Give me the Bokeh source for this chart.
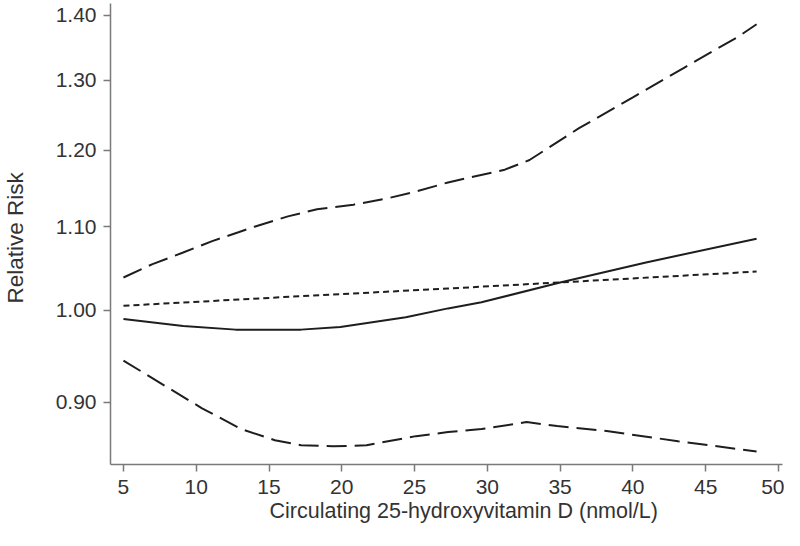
from bokeh.plotting import figure
from bokeh.models import Range1d, FixedTicker, CustomJSTickFormatter, Title
from bokeh.embed import file_html
from bokeh.resources import INLINE

# Upper confidence limit
upper_x = [5.0, 7.0, 9.1, 11.1, 12.9, 14.0, 16.3, 18.3, 20.8, 23.1, 25.1, 27.3, 31.2, 32.9, 36.3, 40.0, 43.6, 47.2, 48.5]
upper_y = [1.038, 1.054, 1.068, 1.082, 1.093, 1.100, 1.113, 1.122, 1.128, 1.136, 1.145, 1.157, 1.174, 1.187, 1.231, 1.275, 1.320, 1.366, 1.386]

# Point estimate (relative risk)
rr_x = [5.0, 9.1, 12.7, 17.2, 19.9, 24.4, 27.3, 29.6, 35.0, 40.9, 48.5]
rr_y = [0.990, 0.982, 0.978, 0.978, 0.981, 0.992, 1.002, 1.009, 1.032, 1.056, 1.085]

# Reference (dotted) line
ref_x = [5.0, 16.0, 27.3, 38.0, 48.5]
ref_y = [1.005, 1.015, 1.025, 1.035, 1.045]

# Lower confidence limit
lower_x = [5.0, 8.2, 10.4, 13.1, 15.4, 17.2, 19.4, 21.7, 25.1, 27.3, 29.6, 32.7, 34.8, 38.2, 43.1, 48.5]
lower_y = [0.944, 0.914, 0.894, 0.873, 0.862, 0.857, 0.856, 0.857, 0.866, 0.870, 0.873, 0.880, 0.876, 0.871, 0.861, 0.851]

x_ticks = [5, 10, 15, 20, 25, 30, 35, 40, 45, 50]
y_ticks = [0.90, 1.00, 1.10, 1.20, 1.30, 1.40]

x_title = "Circulating 25-hydroxyvitamin D (nmol/L)"
y_title = "Relative Risk"

p = figure(width=784, height=530, output_backend="svg", toolbar_location=None,
           y_axis_type="log",
           x_range=Range1d(4.11, 50.28), y_range=Range1d(0.8384, 1.4193),
           min_border_left=107, min_border_right=2, min_border_top=3, min_border_bottom=66)

p.background_fill_color = "white"
p.border_fill_color = "white"
p.outline_line_color = None
p.grid.visible = False

line_col = "#1e1e1e"
p.line(upper_x, upper_y, line_color=line_col, line_width=2, line_dash="20 8")
p.line(lower_x, lower_y, line_color=line_col, line_width=2, line_dash="20 8")
p.line(ref_x, ref_y, line_color=line_col, line_width=2, line_dash="6 4")
p.line(rr_x, rr_y, line_color=line_col, line_width=2)

p.xaxis.ticker = FixedTicker(ticks=x_ticks)
p.yaxis.ticker = FixedTicker(ticks=y_ticks)
p.yaxis.formatter = CustomJSTickFormatter(code="return tick.toFixed(2);")

for ax in (p.xaxis[0], p.yaxis[0]):
    ax.axis_line_color = "#7a7a7a"
    ax.axis_line_width = 1.5
    ax.major_tick_line_color = "#7a7a7a"
    ax.major_tick_line_width = 1.5
    ax.major_tick_in = 0
    ax.major_tick_out = 7
    ax.minor_tick_line_color = None
    ax.major_label_text_font = "Liberation Sans"
    ax.major_label_text_font_size = "21px"
    ax.major_label_text_color = "#333333"

p.xaxis.major_label_standoff = 8
p.yaxis.major_label_standoff = 7

xt = Title(text=x_title, align="left", offset=159, standoff=0,
           text_font="Liberation Sans", text_font_size="21.5px",
           text_font_style="normal", text_color="#333333")
p.add_layout(xt, "below")

# invisible spacer pushing the y title further left
spacer = Title(text=" ", standoff=18, text_font_size="1px", text_color="white")
p.add_layout(spacer, "left")

yt = Title(text=y_title, align="left", offset=161, standoff=4, vertical_align="top",
           text_font="Liberation Sans", text_font_size="22.5px",
           text_font_style="normal", text_color="#333333")
p.add_layout(yt, "left")

open("out.html", "w").write(file_html(p, INLINE))
